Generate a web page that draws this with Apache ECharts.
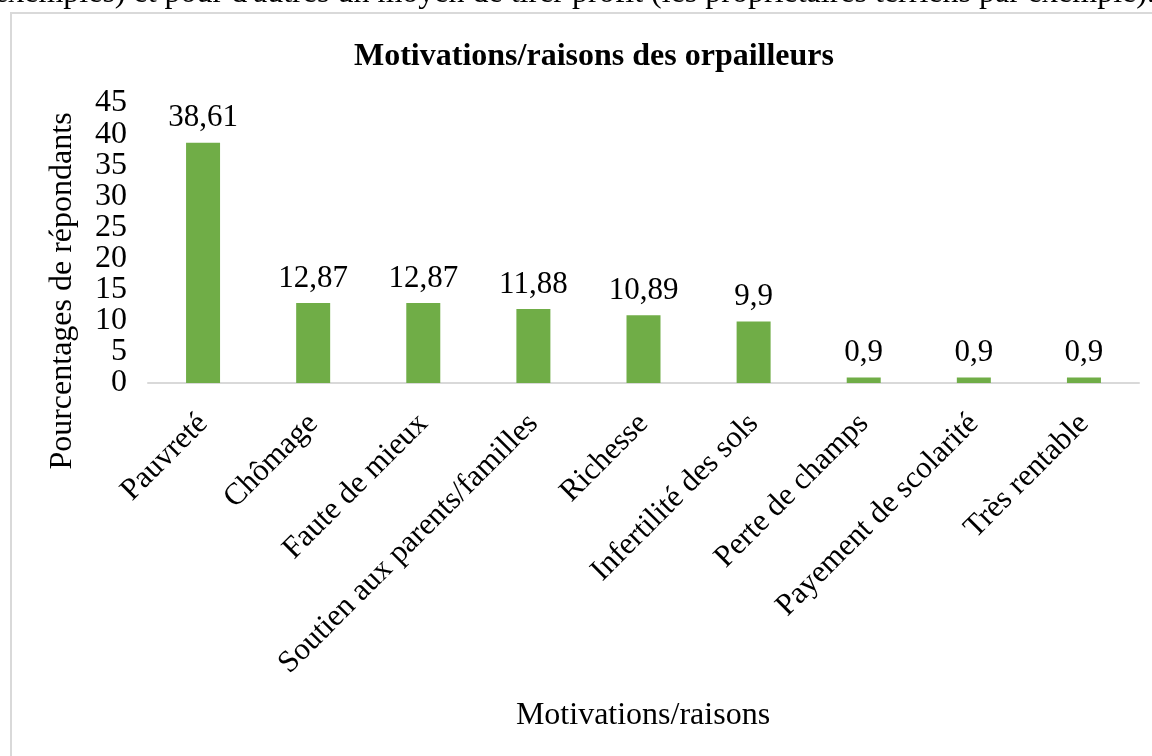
<!DOCTYPE html>
<html>
<head>
<meta charset="utf-8">
<script src="https://cdn.jsdelivr.net/npm/echarts@6/dist/echarts.min.js"></script>
<style>
html,body{margin:0;padding:0;background:#fff;}
#chart{width:1152px;height:756px;}
</style>
</head>
<body>
<div id="chart"></div>
<script>
const categories = ["Pauvreté","Chômage","Faute de mieux","Soutien aux parents/familles","Richesse","Infertilité des sols","Perte de champs","Payement de scolarité","Très rentable"];
const values = [38.61, 12.87, 12.87, 11.88, 10.89, 9.9, 0.9, 0.9, 0.9];
const yTicks = [0,5,10,15,20,25,30,35,40,45];
const titleText = "Motivations/raisons des orpailleurs";
const yName = "Pourcentages de répondants";
const xName = "Motivations/raisons";
const topLine = "exemples) et pour d'autres un moyen de tirer profit (les propriétaires terriens par exemple).";

const serif = "'Liberation Serif','DejaVu Serif',serif";
const yMin = yTicks[0], yMax = yTicks[yTicks.length-1];
const yLabelStyle = {margin:21, fontFamily:serif, fontSize:32, color:'#000'};
const chart = echarts.init(document.getElementById('chart'), null, {renderer:'canvas'});
chart.setOption({
  animation:false,
  backgroundColor:'#fff',
  title:{
    text:titleText, left:589, top:36, textAlign:'center',
    textStyle:{fontFamily:serif, fontSize:32, fontWeight:'bold', color:'#000'}
  },
  grid:{left:148, right:13, top:103, bottom:373, containLabel:false},
  xAxis:{
    type:'category', data:categories,
    axisLine:{lineStyle:{color:'#d9d9d9', width:2}},
    axisTick:{show:false},
    axisLabel:{rotate:45, interval:0, margin:36, fontFamily:serif, fontSize:31, color:'#000'}
  },
  yAxis:[
    {
      type:'value', position:'left', min:yMin, max:yMax, interval:yTicks[1]-yTicks[0],
      axisLine:{show:false}, axisTick:{show:false}, splitLine:{show:false},
      axisLabel:Object.assign({showMinLabel:false, showMaxLabel:false}, yLabelStyle)
    },
    {
      type:'value', position:'left', offset:0, min:yMin, max:yMax, interval:yMax-yMin,
      axisLine:{show:false}, axisTick:{show:false}, splitLine:{show:false},
      axisLabel:Object.assign({showMinLabel:true, showMaxLabel:true}, yLabelStyle)
    }
  ],
  series:[{
    type:'bar', data:values, barWidth:34, yAxisIndex:0,
    itemStyle:{color:'#70ad47'},
    label:{show:true, position:'top', distance:9, fontFamily:serif, fontSize:31, color:'#000',
      formatter:p=>String(p.value).replace('.',',')}
  }],
  graphic:[
    {type:'rect', shape:{x:11, y:13, width:1160, height:800}, style:{fill:null, stroke:'#d9d9d9', lineWidth:2}, silent:true},
    {type:'text', x:-6, y:-6, style:{text:topLine, font:"32px 'Liberation Serif'", fill:'#000', align:'left', verticalAlign:'middle'}},
    {type:'text', x:63, y:291, rotation:Math.PI/2,
      style:{text:yName, font:"32px 'Liberation Serif'", fill:'#000', align:'center', verticalAlign:'middle'}},
    {type:'text', x:643, y:716,
      style:{text:xName, font:"32px 'Liberation Serif'", fill:'#000', align:'center', verticalAlign:'middle'}}
  ]
});
</script>
</body>
</html>
